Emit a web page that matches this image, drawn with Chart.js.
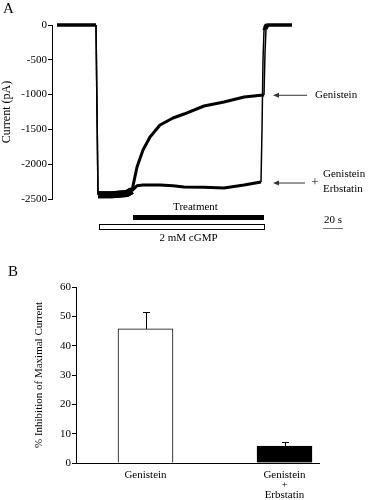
<!DOCTYPE html>
<html>
<head>
<meta charset="utf-8">
<script src="https://cdn.jsdelivr.net/npm/chart.js@4"></script>
<style>
  body { margin: 0; background: #fff; }
  .panel { position: relative; width: 368px; height: 250px; }
</style>
</head>
<body>
<div class="panel"><canvas id="traceChart" width="368" height="250"></canvas></div>
<div class="panel"><canvas id="barChart" width="368" height="250"></canvas></div>
<script>
// panel A: current traces (time in s, current in pA)
const traceTime = [0, 39, 41, 55, 70, 75, 80, 86, 93, 103, 116, 127, 147, 167, 187, 204, 205, 206, 207, 208, 209, 211, 235];
const genisteinCurrent = [0, 0, -2440, -2440, -2420, -2380, -2040, -1796, -1609, -1437, -1336, -1279, -1164, -1106, -1034, -1010, -1010, -1008, -1006, -400, -60, 0, 0];
const erbstatinCurrent = [0, 0, -2440, -2440, -2420, -2380, -2310, -2300, -2300, -2300, -2310, -2328, -2330, -2342, -2300, -2256, -1500, -500, -80, -20, 0, 0, 0];
const currentTicks = [0, -500, -1000, -1500, -2000, -2500];
const treatmentWindow = [76, 207];
const cgmpWindow = [42, 207];
const scaleBarSeconds = 20;
const plateauIndex = 15; // last point before the wash-out jump

// panel B: % inhibition of maximal current
const barLabels = [['Genistein'], ['Genistein', '+', 'Erbstatin']];
const inhibitionMean = [45.7, 5.8];
const inhibitionSem = [5.8, 1.4];

const serif = 'Liberation Serif';

function toPoints(ys) {
    return traceTime.map((t, i) => ({ x: t, y: ys[i] }));
}

// thick line where the recording is noisy, thin on the fast jumps
function segmentWidth(ctx) {
    const x0 = ctx.p0.parsed.x, x1 = ctx.p1.parsed.x;
    const dy = Math.abs(ctx.p1.parsed.y - ctx.p0.parsed.y);
    if (x1 - x0 <= 2 && dy > 300) return 1.5;
    if (x0 >= 41 && x1 <= 75) return 7;
    return 3;
}

function arrowLeft(ctx, xTail, xTip, y) {
    ctx.strokeStyle = '#333';
    ctx.fillStyle = '#333';
    ctx.lineWidth = 1;
    ctx.beginPath();
    ctx.moveTo(xTail, y);
    ctx.lineTo(xTip + 4, y);
    ctx.stroke();
    ctx.beginPath();
    ctx.moveTo(xTip, y);
    ctx.lineTo(xTip + 6, y - 2.5);
    ctx.lineTo(xTip + 6, y + 2.5);
    ctx.closePath();
    ctx.fill();
}

const tracePanelDecor = {
    id: 'tracePanelDecor',
    afterDraw(chart) {
        const ctx = chart.ctx;
        const xs = chart.scales.x, ys = chart.scales.y;
        const area = chart.chartArea;
        ctx.save();
        ctx.fillStyle = '#000';
        ctx.font = '15px ' + serif;
        ctx.textBaseline = 'middle';
        ctx.textAlign = 'left';
        ctx.fillText('A', 3, 9);

        // treatment and cGMP bars under the trace
        const tx0 = xs.getPixelForValue(treatmentWindow[0]);
        const tx1 = xs.getPixelForValue(treatmentWindow[1]);
        ctx.fillRect(tx0, area.bottom + 16, tx1 - tx0, 5);
        const cx0 = xs.getPixelForValue(cgmpWindow[0]);
        const cx1 = xs.getPixelForValue(cgmpWindow[1]);
        ctx.strokeStyle = '#000';
        ctx.lineWidth = 1;
        ctx.strokeRect(cx0 + 0.5, area.bottom + 25.5, cx1 - cx0, 5);

        ctx.font = '11px ' + serif;
        ctx.textAlign = 'center';
        ctx.fillText('Treatment', (tx0 + tx1) / 2 - 3, area.bottom + 8);
        ctx.fillText('2 mM cGMP', (cx0 + cx1) / 2 + 7, area.bottom + 39);

        // arrows to the trace ends
        const endX = xs.getPixelForValue(traceTime[plateauIndex]);
        const gy = ys.getPixelForValue(genisteinCurrent[plateauIndex]);
        const ey = ys.getPixelForValue(erbstatinCurrent[plateauIndex]);
        arrowLeft(ctx, area.right + 10, endX + 12, gy);
        arrowLeft(ctx, area.right + 8, endX + 12, ey + 1);
        ctx.fillStyle = '#000';
        ctx.textAlign = 'left';
        ctx.fillText('Genistein', area.right + 18, gy);
        ctx.textAlign = 'center';
        ctx.font = '13px ' + serif;
        ctx.fillText('+', area.right + 18, ey + 1);
        ctx.font = '11px ' + serif;
        ctx.textAlign = 'left';
        ctx.fillText('Genistein', area.right + 26, ey - 8);
        ctx.fillText('Erbstatin', area.right + 26, ey + 7);

        // 20 s scale bar
        const len = xs.getPixelForValue(scaleBarSeconds) - xs.getPixelForValue(0);
        const sx = area.right + 26;
        ctx.strokeStyle = '#777';
        ctx.beginPath();
        ctx.moveTo(sx, area.bottom + 29.5);
        ctx.lineTo(sx + len, area.bottom + 29.5);
        ctx.stroke();
        ctx.textAlign = 'center';
        ctx.fillText(scaleBarSeconds + ' s', sx + len / 2, area.bottom + 21);
        ctx.restore();
    }
};

new Chart(document.getElementById('traceChart'), {
    type: 'line',
    data: {
        datasets: [
            { label: 'Genistein + Erbstatin', data: toPoints(erbstatinCurrent), borderColor: '#000', clip: false, segment: { borderWidth: segmentWidth } },
            { label: 'Genistein', data: toPoints(genisteinCurrent), borderColor: '#000', clip: false, segment: { borderWidth: segmentWidth } }
        ]
    },
    options: {
        responsive: false,
        animation: false,
        layout: { padding: { left: 0, right: 71, top: 25, bottom: 51 } },
        plugins: { legend: { display: false }, tooltip: { enabled: false } },
        elements: { point: { radius: 0 }, line: { tension: 0, borderJoinStyle: 'round' } },
        scales: {
            x: { type: 'linear', min: -5, max: 240, display: false },
            y: {
                min: -2500, max: 0,
                afterFit: s => { s.width = 52; },
                afterBuildTicks: s => { s.ticks = currentTicks.map(v => ({ value: v })); },
                ticks: { color: '#000', font: { family: serif, size: 11 }, padding: 1, callback: v => String(v) },
                grid: { drawOnChartArea: false, color: '#000', tickLength: 4 },
                border: { color: '#000', width: 1 },
                title: { display: true, text: 'Current (pA)', color: '#000', font: { family: serif, size: 12 }, padding: 0 }
            }
        }
    },
    plugins: [tracePanelDecor]
});

const barPanelDecor = {
    id: 'barPanelDecor',
    afterDatasetsDraw(chart) {
        const ctx = chart.ctx;
        const ys = chart.scales.y;
        const area = chart.chartArea;
        ctx.save();
        ctx.strokeStyle = '#000';
        ctx.lineWidth = 1;
        // error bars (upper only)
        chart.getDatasetMeta(0).data.forEach((bar, i) => {
            const x = Math.round(bar.x) + 0.5;
            const yMean = ys.getPixelForValue(inhibitionMean[i]);
            const yTop = Math.round(ys.getPixelForValue(inhibitionMean[i] + inhibitionSem[i])) + 0.5;
            ctx.beginPath();
            ctx.moveTo(x, yMean);
            ctx.lineTo(x, yTop);
            ctx.moveTo(x - 3.5, yTop);
            ctx.lineTo(x + 3.5, yTop);
            ctx.stroke();
        });
        // baseline
        const y0 = Math.round(ys.getPixelForValue(0)) + 0.5;
        ctx.beginPath();
        ctx.moveTo(area.left, y0);
        ctx.lineTo(area.right - 34, y0);
        ctx.stroke();
        ctx.fillStyle = '#000';
        ctx.font = '15px ' + serif;
        ctx.textBaseline = 'middle';
        ctx.fillText('B', 8, 22);
        ctx.restore();
    }
};

new Chart(document.getElementById('barChart'), {
    type: 'bar',
    data: {
        labels: barLabels,
        datasets: [{
            data: inhibitionMean,
            backgroundColor: ['#fff', '#000'],
            borderColor: '#000',
            borderWidth: 1,
            barThickness: 55
        }]
    },
    options: {
        responsive: false,
        animation: false,
        layout: { padding: { left: 33, right: 14, top: 37, bottom: 0 } },
        plugins: { legend: { display: false }, tooltip: { enabled: false } },
        scales: {
            x: {
                offset: true,
                afterFit: s => { s.height = 37; },
                grid: { display: false, drawTicks: false, tickLength: 0 },
                border: { display: false },
                ticks: { color: '#000', font: { family: serif, size: 11, lineHeight: 0.92 }, padding: 7, maxRotation: 0, autoSkip: false }
            },
            y: {
                min: 0, max: 60,
                afterFit: s => { s.width = 43; },
                ticks: { stepSize: 5, color: '#000', font: { family: serif, size: 11 }, padding: 1, callback: v => (v % 10 === 0 ? String(v) : '') },
                grid: { drawOnChartArea: false, color: '#000', tickLength: 4 },
                border: { color: '#000', width: 1 },
                title: { display: true, text: '% Inhibition of Maximal Current', color: '#000', font: { family: serif, size: 11 }, padding: 0 }
            }
        }
    },
    plugins: [barPanelDecor]
});
</script>
</body>
</html>
